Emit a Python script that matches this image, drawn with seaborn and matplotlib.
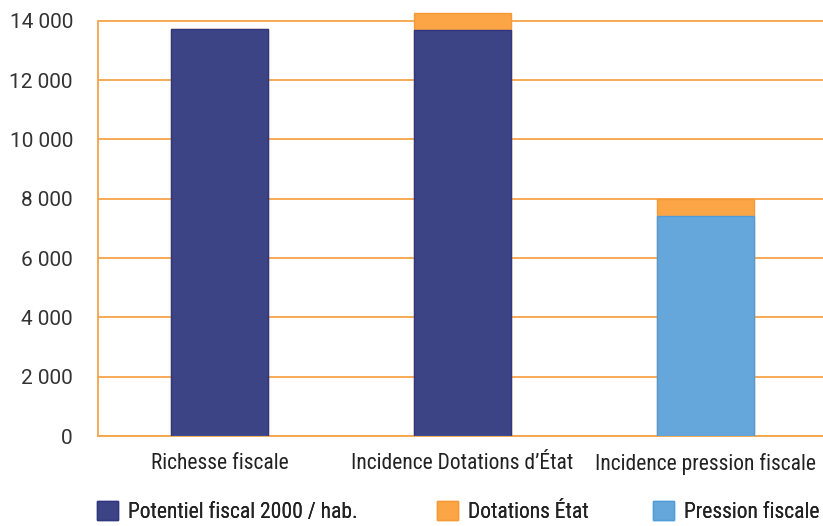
import matplotlib
matplotlib.use("Agg")
import matplotlib.pyplot as plt
from matplotlib.patches import Patch
from matplotlib.ticker import FuncFormatter
from matplotlib import font_manager as fm
import seaborn as sns
import pandas as pd

categories = ["Richesse fiscale", "Incidence Dotations d\u2019\u00c9tat", "Incidence pression fiscale"]
potentiel = [13730, 13700, 0]
dotations = [0, 560, 550]
pression = [0, 0, 7430]
series_names = ["Potentiel fiscal 2000 / hab.", "Dotations \u00c9tat", "Pression fiscale"]
yticks = [0, 2000, 4000, 6000, 8000, 10000, 12000, 14000]

c_dark = "#3C4486"
c_orange = "#FBA546"
c_blue = "#65A7DA"
grid_c = "#F6A448"

sns.set_theme(style="white")
plt.rcParams["font.family"] = ["DejaVu Sans"]

names = sorted({f.name for f in fm.fontManager.ttflist})
narrow_font = None
for cand in ["Liberation Sans Narrow", "DejaVu Sans Condensed", "Roboto Condensed",
             "Open Sans Condensed", "Noto Sans Condensed"]:
    if cand in names:
        narrow_font = cand
        break
if narrow_font is None:
    narrow_props = dict(family=["DejaVu Sans"], stretch="condensed")
else:
    narrow_props = dict(family=[narrow_font, "DejaVu Sans"])
num_family = ["Roboto", "DejaVu Sans"] if "Roboto" in names else ["DejaVu Sans"]

df = pd.DataFrame({
    "cat": categories,
    "total": [p + d + s for p, d, s in zip(potentiel, dotations, pression)],
    "pot": potentiel,
    "pres": pression,
})

fig = plt.figure(figsize=(8.23, 5.26), dpi=100)
ax = fig.add_axes([0.119, 0.171, 0.886, 0.829])

for y in yticks:
    ax.axhline(y, color=grid_c, lw=1.3, zorder=0)

sns.barplot(data=df, x="cat", y="total", color=c_orange, width=0.4,
            edgecolor="#F59A36", linewidth=1, saturation=1, ax=ax, zorder=2)
sns.barplot(data=df, x="cat", y="pot", color=c_dark, width=0.4,
            edgecolor="#2F3680", linewidth=1, saturation=1, ax=ax, zorder=3)
sns.barplot(data=df, x="cat", y="pres", color=c_blue, width=0.4,
            edgecolor="#4F9CD8", linewidth=1, saturation=1, ax=ax, zorder=3)

ax.set_xlim(-0.5, 2.5)
ax.set_ylim(0, 14700)
ax.set_yticks(yticks)
ax.yaxis.set_major_formatter(FuncFormatter(lambda v, p: f"{int(v):,}".replace(",", " ")))
ax.set_xlabel("")
ax.set_ylabel("")

for s in ["top", "right"]:
    ax.spines[s].set_visible(False)
ax.spines["left"].set_color(grid_c)
ax.spines["bottom"].set_color(grid_c)
ax.spines["left"].set_linewidth(1.3)
ax.spines["bottom"].set_linewidth(1.3)
ax.spines["left"].set_bounds(0, 14000)

ax.tick_params(axis="y", which="major", length=7, width=1.3, color=grid_c,
               labelcolor="#333333", pad=11)
for lbl in ax.get_yticklabels():
    lbl.set_fontproperties(fm.FontProperties(family=num_family, size=15))
ax.tick_params(axis="x", which="major", length=0, pad=12)
ax.set_xticks([-0.5, 0.5, 1.5, 2.5], minor=True)
ax.tick_params(axis="x", which="minor", length=9, width=1.3, color=grid_c)
for lbl in ax.get_xticklabels():
    lbl.set_fontproperties(fm.FontProperties(size=15.5, **narrow_props))
    lbl.set_color("#222222")

handles = [Patch(facecolor=c_dark, edgecolor="#2F3680"),
           Patch(facecolor=c_orange, edgecolor="#F59A36"),
           Patch(facecolor=c_blue, edgecolor="#4F9CD8")]
leg_x = [97 / 823, 437 / 823, 653 / 823]
for h, name, lx in zip(handles, series_names, leg_x):
    leg = fig.legend([h], [name], loc="lower left", bbox_to_anchor=(lx, 0.006),
                     frameon=False, prop=fm.FontProperties(size=15.5, **narrow_props),
                     borderpad=0, borderaxespad=0,
                     handlelength=0.98, handleheight=0.98, handletextpad=0.45)
    for t in leg.get_texts():
        t.set_color("#222222")
    fig.add_artist(leg)

fig.savefig("out.png", dpi=100)
